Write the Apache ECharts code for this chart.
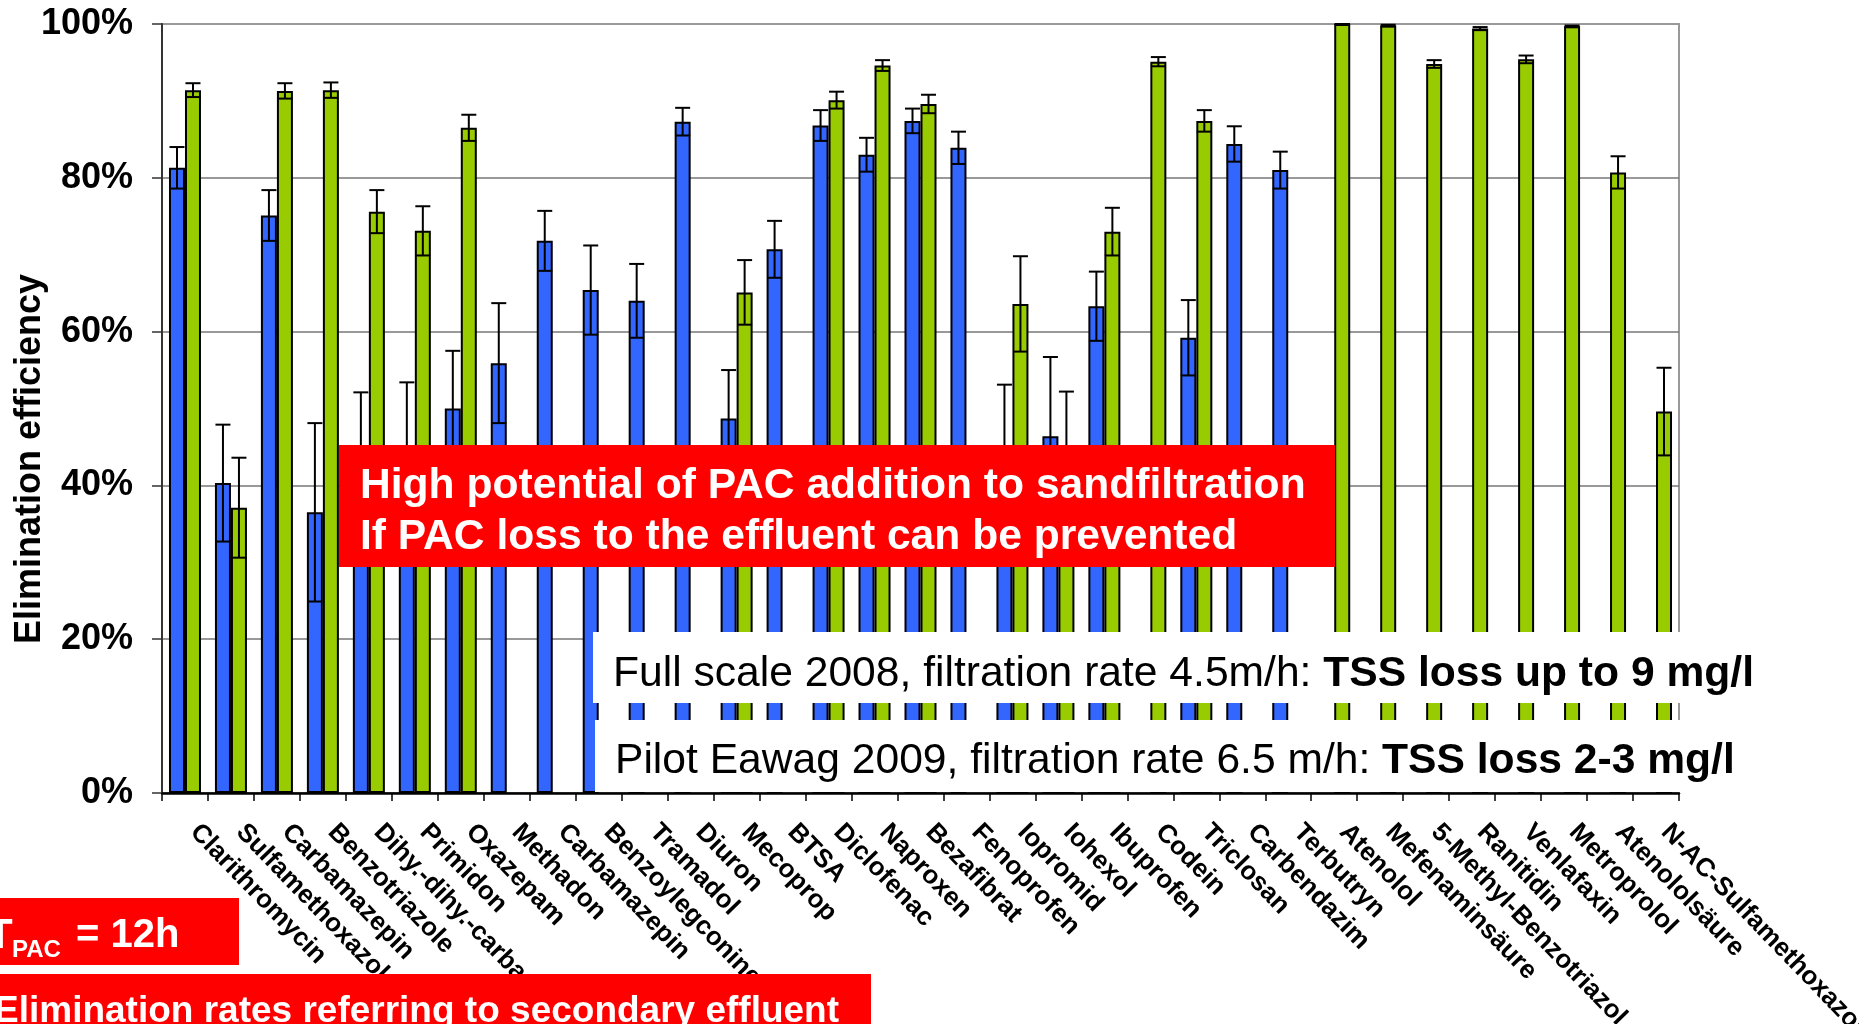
<!DOCTYPE html>
<html>
<head>
<meta charset="utf-8">
<title>Elimination efficiency – PAC addition to sandfiltration</title>
<script src="https://cdn.jsdelivr.net/npm/echarts@6/dist/echarts.min.js"></script>
<style>
  html, body { margin: 0; padding: 0; background: #ffffff; }
  #chart { width: 1859px; height: 1024px; }
</style>
</head>
<body>
<div id="chart"></div>
<script>
// Compounds on the category axis
const compounds = [
  'Clarithromycin', 'Sulfamethoxazol', 'Carbamazepin', 'Benzotriazole',
  'Dihy.-dihy.-carbamazepin', 'Primidon', 'Oxazepam', 'Methadon',
  'Carbamazepin', 'Benzoylegconine', 'Tramadol', 'Diuron', 'Mecoprop',
  'BTSA', 'Diclofenac', 'Naproxen', 'Bezafibrat', 'Fenoprofen', 'Iopromid',
  'Iohexol', 'Ibuprofen', 'Codein', 'Triclosan', 'Carbendazim', 'Terbutryn',
  'Atenolol', 'Mefenaminsäure', '5-Methyl-Benzotriazol', 'Ranitidin',
  'Venlafaxin', 'Metroprolol', 'Atenololsäure', 'N-AC-Sulfamethoxazol'
];

// Full scale 2008 (blue): mean elimination in % and +/- deviation
const fullScale2008 = [
  81.3, 40.3, 75.1, 36.5, 45.2, 45.2, 50.0, 55.9, 71.8, 65.4, 64.0, 87.3, 48.7,
  70.7, 86.8, 83.0, 87.4, 83.9, 42.0, 46.4, 63.3, null, 59.2, 84.4, 81.0,
  null, null, null, null, null, null, null, null
];
const fullScale2008Err = [
  2.7, 7.6, 3.3, 11.6, 6.9, 8.2, 7.5, 7.8, 3.9, 5.8, 4.8, 1.8, 6.3,
  3.7, 2.0, 2.2, 1.6, 2.1, 11.1, 10.3, 4.5, null, 4.9, 2.3, 2.4,
  null, null, null, null, null, null, null, null
];

// Pilot Eawag 2009 (green): mean elimination in % and +/- deviation
const pilot2009 = [
  91.4, 37.1, 91.3, 91.4, 75.6, 73.1, 86.5, null, null, null, null, null, 65.1,
  null, 90.1, 94.6, 89.6, null, 63.6, 41.0, 73.0, 95.1, 87.4, null, null,
  100.0, 99.8, 94.8, 99.4, 95.4, 99.7, 80.7, 49.6
];
const pilot2009Err = [
  0.9, 6.5, 1.0, 1.0, 2.8, 3.2, 1.7, null, null, null, null, null, 4.2,
  null, 1.1, 0.7, 1.2, null, 6.2, 11.2, 3.1, 0.6, 1.4, null, null,
  0.0, 0.1, 0.5, 0.2, 0.5, 0.1, 2.1, 5.7
];

// Value axis ticks (percent)
const yTicks = [0, 20, 40, 60, 80, 100];

const FONT = "'Liberation Sans', Arial, Helvetica, sans-serif";
const BLUE = '#3366FF';
const GREEN = '#99CC00';
const BAR_W = 16;

function errorBars(values, errs, offset) {
  const data = [];
  values.forEach((v, i) => {
    if (v != null && errs[i] != null) data.push([i, v, errs[i]]);
  });
  return {
    type: 'custom',
    z: 5,
    silent: true,
    clip: false,
    data: data,
    encode: { x: 0, y: 1 },
    renderItem(params, api) {
      const i = api.value(0), v = api.value(1), e = api.value(2);
      const hi = api.coord([i, v + e]);
      const lo = api.coord([i, v - e]);
      const x = hi[0] + offset;
      const hw = 7.5;
      const st = { stroke: '#000', lineWidth: 2 };
      return {
        type: 'group',
        children: [
          { type: 'line', shape: { x1: x, y1: hi[1], x2: x, y2: lo[1] }, style: st },
          { type: 'line', shape: { x1: x - hw, y1: hi[1], x2: x + hw, y2: hi[1] }, style: st },
          { type: 'line', shape: { x1: x - hw, y1: lo[1], x2: x + hw, y2: lo[1] }, style: st }
        ]
      };
    }
  };
}

const chart = echarts.init(document.getElementById('chart'), null, { renderer: 'canvas' });

const option = {
  backgroundColor: '#ffffff',
  animation: false,
  grid: {
    left: 162, right: 180, top: 24, bottom: 231,
    outerBoundsMode: 'none',
    containLabel: false,
    show: true, borderColor: '#999999', borderWidth: 2, backgroundColor: 'transparent'
  },
  xAxis: {
    type: 'category',
    data: compounds,
    boundaryGap: true,
    axisLine: { lineStyle: { color: '#000', width: 2.5 } },
    axisTick: { show: true, length: 8, alignWithLabel: false, lineStyle: { color: '#000', width: 1.5 } },
    axisLabel: {
      interval: 0, rotate: -46, margin: 44,
      align: 'left', verticalAlign: 'bottom',
      color: '#000', fontFamily: FONT, fontWeight: 'bold', fontSize: 26
    },
    splitLine: { show: false }
  },
  yAxis: {
    type: 'value',
    min: yTicks[0], max: yTicks[yTicks.length - 1], interval: 20,
    axisLine: { show: true, lineStyle: { color: '#333', width: 2 } },
    axisTick: { show: true, length: 10, lineStyle: { color: '#333', width: 1.5 } },
    axisLabel: {
      formatter: '{value}%', margin: 29,
      color: '#000', fontFamily: FONT, fontWeight: 'bold', fontSize: 36
    },
    splitLine: { show: true, showMaxLine: false, lineStyle: { color: '#777777', width: 1.5 } }
  },
  series: [
    {
      name: 'Full scale 2008',
      type: 'bar',
      data: fullScale2008,
      barWidth: BAR_W,
      barGap: '0%',
      itemStyle: { color: BLUE, borderColor: '#000', borderWidth: 2 }
    },
    {
      name: 'Pilot Eawag 2009',
      type: 'bar',
      data: pilot2009,
      barWidth: BAR_W,
      barGap: '0%',
      itemStyle: { color: GREEN, borderColor: '#000', borderWidth: 2 }
    },
    errorBars(fullScale2008, fullScale2008Err, -BAR_W / 2),
    errorBars(pilot2009, pilot2009Err, BAR_W / 2)
  ],
  graphic: [
    // value axis title
    {
      type: 'text', x: 30, y: 459, rotation: Math.PI / 2, z: 100,
      style: {
        text: 'Elimination efficiency', fill: '#000', align: 'center', verticalAlign: 'middle',
        fontFamily: FONT, fontWeight: 'bold', fontSize: 36
      }
    },
    // red statement box inside the plot
    { type: 'rect', z: 100, shape: { x: 339, y: 445, width: 996, height: 122 }, style: { fill: '#FF0000' } },
    {
      type: 'text', x: 360, y: 486, z: 101,
      style: {
        text: 'High potential of PAC addition to sandfiltration', fill: '#fff',
        align: 'left', verticalAlign: 'middle', fontFamily: FONT, fontWeight: 'bold', fontSize: 42.6
      }
    },
    {
      type: 'text', x: 360, y: 537, z: 101,
      style: {
        text: 'If PAC loss to the effluent can be prevented', fill: '#fff',
        align: 'left', verticalAlign: 'middle', fontFamily: FONT, fontWeight: 'bold', fontSize: 42.6
      }
    },
    // white boxes describing the two campaigns
    { type: 'rect', z: 100, shape: { x: 593, y: 632, width: 1177, height: 71 }, style: { fill: '#fff' } },
    { type: 'rect', z: 100, shape: { x: 595, y: 720, width: 1175, height: 72 }, style: { fill: '#fff' } },
    {
      type: 'text', x: 613, y: 674, z: 101,
      style: {
        text: '{r|Full scale 2008, filtration rate 4.5m/h: }{b|TSS loss up to 9 mg/l}',
        align: 'left', verticalAlign: 'middle',
        rich: {
          r: { fill: '#000', fontFamily: FONT, fontWeight: 'normal', fontSize: 42.6 },
          b: { fill: '#000', fontFamily: FONT, fontWeight: 'bold', fontSize: 42.6 }
        }
      }
    },
    {
      type: 'text', x: 615, y: 761, z: 101,
      style: {
        text: '{r|Pilot Eawag 2009, filtration rate 6.5 m/h: }{b|TSS loss 2-3 mg/l}',
        align: 'left', verticalAlign: 'middle',
        rich: {
          r: { fill: '#000', fontFamily: FONT, fontWeight: 'normal', fontSize: 42.6 },
          b: { fill: '#000', fontFamily: FONT, fontWeight: 'bold', fontSize: 42.6 }
        }
      }
    },
    // contact time box
    { type: 'rect', z: 100, shape: { x: 0, y: 898, width: 239, height: 67 }, style: { fill: '#FF0000' } },
    {
      type: 'text', x: -13, y: 936, z: 101,
      style: { text: 'T', fill: '#fff', align: 'left', verticalAlign: 'middle', fontFamily: FONT, fontWeight: 'bold', fontSize: 42 }
    },
    {
      type: 'text', x: 12, y: 950, z: 101,
      style: { text: 'PAC', fill: '#fff', align: 'left', verticalAlign: 'middle', fontFamily: FONT, fontWeight: 'bold', fontSize: 24 }
    },
    {
      type: 'text', x: 76, y: 936, z: 101,
      style: { text: '= 12h', fill: '#fff', align: 'left', verticalAlign: 'middle', fontFamily: FONT, fontWeight: 'bold', fontSize: 40 }
    },
    // reference note
    { type: 'rect', z: 100, shape: { x: 0, y: 974, width: 871, height: 60 }, style: { fill: '#FF0000' } },
    {
      type: 'text', x: -6, y: 1012, z: 101,
      style: {
        text: 'Elimination rates referring to secondary effluent', fill: '#fff',
        align: 'left', verticalAlign: 'middle', fontFamily: FONT, fontWeight: 'bold', fontSize: 37
      }
    }
  ]
};

chart.setOption(option);
</script>
</body>
</html>
